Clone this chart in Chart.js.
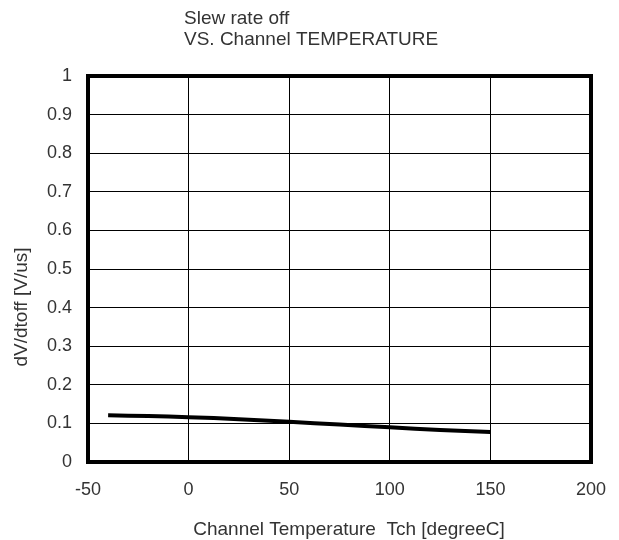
<!DOCTYPE html>
<html>
<head>
<meta charset="utf-8">
<script src="https://cdn.jsdelivr.net/npm/chart.js@4/dist/chart.umd.min.js"></script>
<style>
  html, body { margin: 0; padding: 0; background: #fff; }
  #wrap { position: relative; width: 619px; height: 540px; }
</style>
</head>
<body>
<div id="wrap"><canvas id="chart" width="619" height="540"></canvas></div>
<script>
// ─────────────────────────────
// Data
// ─────────────────────────────
const temps = [-40, -20, 0, 25, 50, 75, 100, 125, 150];
const dvdt  = [0.121, 0.119, 0.116, 0.111, 0.104, 0.097, 0.090, 0.083, 0.078];
const titleLines = ['Slew rate off', 'VS. Channel TEMPERATURE'];
const xLabel = 'Channel Temperature  Tch [degreeC]';
const yLabel = 'dV/dtoff [V/us]';

const FONT = '"Liberation Sans", Arial, sans-serif';
const TXT = '#333';

// titles drawn by hand, placed like the original
const textPlugin = {
  id: 'texts',
  afterDraw(chart) {
    const ctx = chart.ctx;
    ctx.save();
    ctx.fillStyle = TXT;
    ctx.textBaseline = 'alphabetic';

    ctx.font = '19px ' + FONT;
    ctx.textAlign = 'left';
    titleLines.forEach((t, i) => ctx.fillText(t, 184, 24 + i * 21));

    ctx.font = '19px ' + FONT;
    ctx.textAlign = 'center';
    ctx.fillText(xLabel, 349, 535);

    ctx.font = '19px ' + FONT;
    ctx.translate(27, 307);
    ctx.rotate(-Math.PI / 2);
    ctx.fillText(yLabel, 0, 0);
    ctx.restore();
  }
};

// thick frame round the plot area
const framePlugin = {
  id: 'frame',
  afterDatasetsDraw(chart) {
    const a = chart.chartArea;
    const ctx = chart.ctx;
    ctx.save();
    ctx.strokeStyle = '#000';
    ctx.lineWidth = 4;
    ctx.strokeRect(a.left, a.top, a.right - a.left, a.bottom - a.top);
    ctx.restore();
  }
};

new Chart(document.getElementById('chart').getContext('2d'), {
  type: 'line',
  data: {
    datasets: [{
      data: temps.map((t, i) => ({ x: t, y: dvdt[i] })),
      borderColor: '#000',
      borderWidth: 4,
      pointRadius: 0,
      tension: 0.4,
      fill: false
    }]
  },
  options: {
    responsive: false,
    animation: false,
    layout: { padding: { top: 76, right: 28, left: 0, bottom: 0 } },
    plugins: { legend: { display: false }, tooltip: { enabled: false } },
    scales: {
      x: {
        type: 'linear',
        min: -50, max: 200,
        ticks: { stepSize: 50, color: TXT, font: { family: FONT, size: 18 }, padding: 17 },
        grid: { color: '#000', lineWidth: 1, drawTicks: false },
        border: { display: false },
        afterFit(s) { s.height = 78; s.paddingRight = 0; s.paddingLeft = 0; }
      },
      y: {
        min: 0, max: 1,
        ticks: {
          stepSize: 0.1, color: TXT, font: { family: FONT, size: 18 }, padding: 16,
          callback: v => String(Number(v.toFixed(1)))
        },
        grid: { color: '#000', lineWidth: 1, drawTicks: false },
        border: { display: false },
        afterFit(s) { s.width = 88; }
      }
    }
  },
  plugins: [textPlugin, framePlugin]
});
</script>
</body>
</html>
